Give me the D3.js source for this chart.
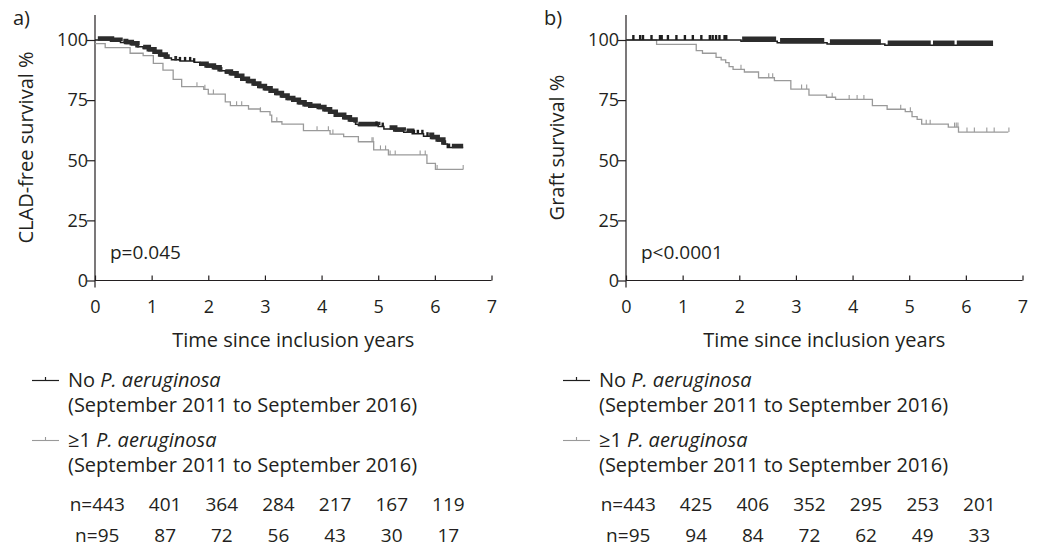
<!DOCTYPE html>
<html><head><meta charset="utf-8">
<script src="https://cdn.jsdelivr.net/npm/d3@7"></script>
<style>
body{margin:0;background:#fff}
text{font-family:"Open Sans",sans-serif;fill:#231f20}
</style>
</head><body>
<svg id="c" width="1038" height="547"></svg>
<script>
// ---------- data ----------
const timeTicks = [0,1,2,3,4,5,6,7];
const yTicks = [0,25,50,75,100];
const panelLabels = ["a)","b)"];
const yTitles = ["CLAD-free survival %","Graft survival %"];
const xTitle = "Time since inclusion years";
const pValues = ["p=0.045","p<0.0001"];
const groupNames = ["No","\u22651"];
const period = "(September 2011 to September 2016)";

// Panel a: CLAD-free survival, step events [time (years), survival %]
const aNoSteps = [[0,100],[0.3,99.5],[0.45,99],[0.55,98.5],[0.65,98],[0.75,97.2],[0.85,96.5],[0.95,95.5],[1.05,94.5],[1.15,93.3],[1.25,92.5],[1.35,91.8],[1.5,91.3],[1.75,90.8],[1.85,89.5],[1.97,88.8],[2.1,88],[2.2,87.2],[2.3,86.3],[2.4,85.5],[2.5,84.5],[2.6,83.3],[2.7,82.3],[2.8,81.3],[2.9,80.3],[3.0,79.3],[3.1,78.3],[3.2,77.3],[3.3,76.3],[3.4,75.3],[3.5,74.5],[3.6,73.5],[3.7,72.7],[3.8,72],[3.95,71.5],[4.05,70.6],[4.15,69.5],[4.25,68.3],[4.4,67.3],[4.5,66.3],[4.6,65],[4.65,64.5],[5.0,64],[5.1,63],[5.3,62.2],[5.45,61.6],[5.6,61],[5.8,60],[5.95,59],[6.05,58],[6.15,56.8],[6.22,55.3]];
const aNoEnd = 6.5;
const aNoCensorBands = [[0.05,0.45],[0.5,0.78],[0.85,1.32],[1.4,1.45],[1.85,2.25],[2.3,4.6],[4.65,5.0],[5.2,5.45],[5.5,5.6],[5.9,6.2],[6.3,6.5]];
const aNoCensor = [1.5,1.59,1.68,1.75,4.97,5.08,5.63,5.7,5.78,5.87,6.25];
const aPaSteps = [[0,98.5],[0.18,96.8],[0.62,94.5],[0.85,93.5],[1.03,90.3],[1.2,87.5],[1.38,83.6],[1.53,80.6],[1.92,79.5],[2.0,77.5],[2.3,74.3],[2.39,72.7],[2.71,71.3],[2.92,70.2],[3.09,68.8],[3.12,66],[3.3,65],[3.68,62.3],[4.15,60.9],[4.39,59.8],[4.65,57.7],[4.92,54.3],[5.18,52.2],[5.86,48.7],[6.01,46.2]];
const aPaEnd = 6.5;
const aPaCensor = [1.8,1.94,2.09,2.5,2.59,2.92,3.21,3.92,4.12,4.2,4.89,4.91,5.04,5.13,5.21,5.3,5.74,5.83,6.04,6.5];
const aRiskNo = [443,401,364,284,217,167,119];
const aRiskPa = [95,87,72,56,43,30,17];

// Panel b: Graft survival
const bNoSteps = [[0,100],[2.03,99.5],[2.67,98.9],[3.55,98.3],[4.57,97.8]];
const bNoEnd = 6.48;
const bNoCensorBands = [[2.05,2.65],[2.72,3.5],[3.6,4.5],[4.62,5.38],[5.42,5.8],[5.84,6.48]];
const bNoCensor = [0.13,0.25,0.30,0.45,0.60,0.63,0.74,0.89,1.04,1.18,1.33,1.48,1.53,1.59,1.65,1.74,1.77];
const bPaSteps = [[0,100],[0.54,98.2],[1.24,95.6],[1.35,94.5],[1.59,92.8],[1.68,91.7],[1.76,90.6],[1.82,88.9],[1.89,87.8],[2.09,86.7],[2.34,84.3],[2.62,83.1],[2.91,79.6],[3.23,77.1],[3.54,76.2],[3.7,75.3],[4.35,72.7],[4.61,71.2],[4.93,70.2],[5.05,68.1],[5.14,67],[5.22,65],[5.69,63.8],[5.87,61.7]];
const bPaEnd = 6.75;
const bPaCensor = [2.03,2.52,2.59,3.1,3.19,3.64,3.94,4.08,4.2,4.85,5.02,5.3,5.37,5.8,5.83,5.86,6.02,6.15,6.37,6.5,6.76];
const bRiskNo = [443,425,406,352,295,253,201];
const bRiskPa = [95,94,84,72,62,49,33];

// ---------- drawing ----------
const svg = d3.select("#c");
const COL_NO = "#1e1e1e", COL_NO_BAND = "#2c2c2c", COL_PA = "#9a9a9a", AX = "#231f20";

function survAt(steps, t){
  let s = steps[0][1];
  for (const [ti, si] of steps) { if (ti <= t) s = si; else break; }
  return s;
}

function panel(cfg){
  const x = d3.scaleLinear().domain([0,7]).range([cfg.x0, cfg.x0 + 396.5]);
  const y = d3.scaleLinear().domain([0,100]).range([280.5, 40]);
  const g = svg.append("g");
  const line = d3.line().x(d=>x(d[0])).y(d=>y(d[1])).curve(d3.curveStepAfter);

  // axes
  const xa = g.append("g").attr("transform",`translate(0,${y(0)})`)
    .call(d3.axisBottom(x).tickValues(timeTicks).tickFormat(d3.format("d")).tickSize(-5).tickSizeOuter(0).tickPadding(19.5));
  xa.select(".domain").remove();
  xa.selectAll("line").attr("stroke",AX).attr("stroke-width",1.2);
  xa.selectAll("text").attr("font-size",18).style("font-family","Open Sans").attr("fill",AX);
  const ya = g.append("g").attr("transform",`translate(${x(0)},0)`)
    .call(d3.axisLeft(y).tickValues(yTicks).tickFormat(d3.format("d")).tickSize(8).tickSizeOuter(0).tickPadding(-1));
  ya.select(".domain").remove();
  ya.selectAll("line").attr("stroke",AX).attr("stroke-width",1.2);
  ya.selectAll("text").attr("font-size",18).style("font-family","Open Sans").attr("fill",AX);
  g.append("line").attr("x1",x(0)).attr("x2",x(7)).attr("y1",y(0)).attr("y2",y(0)).attr("stroke",AX).attr("stroke-width",1.2);
  g.append("line").attr("x1",x(0)).attr("x2",x(0)).attr("y1",y(0)+7).attr("y2",y(110.4)).attr("stroke",AX).attr("stroke-width",1.2);

  // curves
  const pts = (steps,end)=> steps.concat([[end, steps[steps.length-1][1]]]);
  g.append("path").attr("d", line(pts(cfg.paSteps,cfg.paEnd))).attr("fill","none").attr("stroke",COL_PA).attr("stroke-width",1.3);
  cfg.paCensor.forEach(t=>{
    const s = survAt(cfg.paSteps,t);
    g.append("line").attr("x1",x(t)).attr("x2",x(t)).attr("y1",y(s)).attr("y2",y(s)-4.5).attr("stroke",COL_PA).attr("stroke-width",1.1);
  });
  g.append("path").attr("d", line(pts(cfg.noSteps,cfg.noEnd))).attr("fill","none").attr("stroke",COL_NO).attr("stroke-width",1.5);
  cfg.noBands.forEach(([t0,t1])=>{
    const p = [[t0, survAt(cfg.noSteps,t0)]].concat(cfg.noSteps.filter(d=>d[0]>t0 && d[0]<t1)).concat([[t1, survAt(cfg.noSteps,t1)]]);
    g.append("path").attr("d", line(p)).attr("fill","none").attr("stroke",COL_NO_BAND)
      .attr("stroke-width",cfg.bandW).attr("transform",`translate(0,${-(cfg.bandW-1.5)/2})`);
  });
  cfg.noCensor.forEach(t=>{
    const s = survAt(cfg.noSteps,t);
    g.append("line").attr("x1",x(t)).attr("x2",x(t)).attr("y1",y(s)).attr("y2",y(s)-cfg.bandW+0.5).attr("stroke",COL_NO).attr("stroke-width",2.4);
  });

  // texts
  g.append("text").attr("x",cfg.x0-82).attr("y",25).attr("font-size",20).text(cfg.label);
  g.append("text").attr("transform",`translate(${cfg.x0-62},147.5) rotate(-90)`).attr("text-anchor","middle").attr("font-size",20).text(cfg.yTitle);
  g.append("text").attr("x",cfg.x0+15).attr("y",259).attr("font-size",19).text(cfg.p);
  g.append("text").attr("x",(x(0)+x(7))/2).attr("y",346.5).attr("text-anchor","middle").attr("font-size",20).text(xTitle);

  // legend
  const lx = cfg.x0-63, tx = cfg.x0-27;
  [[COL_NO,380.5,387,412,1.2],[COL_PA,440.5,447,472,1.1]].forEach(([c,ly,b1,b2,w],i)=>{
    g.append("line").attr("x1",lx).attr("x2",lx+27).attr("y1",ly).attr("y2",ly).attr("stroke",c).attr("stroke-width",w);
    g.append("line").attr("x1",lx+13.5).attr("x2",lx+13.5).attr("y1",ly).attr("y2",ly-3.5).attr("stroke",c).attr("stroke-width",w);
    const t = g.append("text").attr("x",tx).attr("y",b1).attr("font-size",20);
    t.append("tspan").text(groupNames[i]+" ");
    t.append("tspan").attr("font-style","italic").text("P. aeruginosa");
    g.append("text").attr("x",tx).attr("y",b2).attr("font-size",20).text(period);
  });

  // numbers at risk
  [[cfg.riskNo,510.5],[cfg.riskPa,542]].forEach(([arr,by])=>{
    arr.forEach((v,i)=>{
      const t = g.append("text").attr("x",x(i)+13.5).attr("y",by).attr("text-anchor","middle").attr("font-size",19).text(v);
      if (i===0){
        const bb = t.node().getBBox();
        g.append("text").attr("x",bb.x).attr("y",by).attr("text-anchor","end").attr("font-size",19).text("n=");
      }
    });
  });
}

panel({x0:95, label:panelLabels[0], yTitle:yTitles[0], p:pValues[0], bandW:4.5,
  noSteps:aNoSteps, noEnd:aNoEnd, noBands:aNoCensorBands, noCensor:aNoCensor,
  paSteps:aPaSteps, paEnd:aPaEnd, paCensor:aPaCensor, riskNo:aRiskNo, riskPa:aRiskPa});
panel({x0:626, label:panelLabels[1], yTitle:yTitles[1], p:pValues[1], bandW:5.5,
  noSteps:bNoSteps, noEnd:bNoEnd, noBands:bNoCensorBands, noCensor:bNoCensor,
  paSteps:bPaSteps, paEnd:bPaEnd, paCensor:bPaCensor, riskNo:bRiskNo, riskPa:bRiskPa});
</script>
</body></html>
